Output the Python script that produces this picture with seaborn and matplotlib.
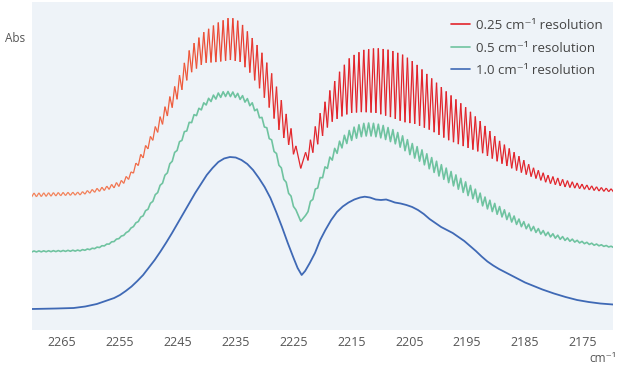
import numpy as np
import pandas as pd
import matplotlib
matplotlib.use("Agg")
import matplotlib.pyplot as plt
import seaborn as sns
from matplotlib.collections import LineCollection
from matplotlib.colors import LinearSegmentedColormap
from matplotlib.lines import Line2D

# x axis (cm-1, drawn high -> low)
ticks = [2265, 2255, 2245, 2235, 2225, 2215, 2205, 2195, 2185, 2175]
labels = ["0.25 cm\u207b\u00b9 resolution", "0.5 cm\u207b\u00b9 resolution", "1.0 cm\u207b\u00b9 resolution"]

# 1.0 cm-1 trace (Abs in arbitrary units)
blue_wn = [2270.2, 2266, 2263, 2261, 2259, 2257.5, 2256, 2255, 2254, 2253,
           2252, 2251, 2250, 2249, 2248, 2247, 2246, 2245, 2244, 2243,
           2242, 2241, 2240, 2239, 2238, 2237, 2236, 2235, 2234, 2233,
           2232, 2231, 2230, 2229, 2228, 2227, 2226, 2225, 2224.3, 2223.6,
           2223, 2222.2, 2221.3, 2220.4, 2219.5, 2218.5, 2217.5, 2216.5, 2215.5, 2214.5,
           2213.5, 2212.7, 2211.8, 2210.8, 2209.9, 2209, 2208.2, 2207.5, 2206.5, 2205.5,
           2204.5, 2203.5, 2202.5, 2201.5, 2200.5, 2199.5, 2198.5, 2197.5, 2196.5, 2195.5,
           2194.5, 2193.5, 2192.5, 2191.5, 2190.5, 2189.5, 2188, 2186.5, 2185, 2183.5,
           2182, 2180, 2178, 2176, 2174, 2172, 2169.8]
blue_abs = [0.21, 0.215, 0.22, 0.235, 0.26, 0.29, 0.32, 0.35, 0.39, 0.435,
            0.49, 0.55, 0.625, 0.70, 0.785, 0.875, 0.97, 1.07, 1.17, 1.27,
            1.37, 1.46, 1.55, 1.62, 1.68, 1.715, 1.73, 1.725, 1.70, 1.66,
            1.60, 1.52, 1.43, 1.32, 1.18, 1.03, 0.87, 0.72, 0.62, 0.55,
            0.59, 0.67, 0.77, 0.90, 1.00, 1.10, 1.18, 1.235, 1.275, 1.305,
            1.325, 1.333, 1.325, 1.305, 1.30, 1.305, 1.29, 1.275, 1.265, 1.25,
            1.23, 1.20, 1.16, 1.11, 1.07, 1.03, 1.00, 0.97, 0.93, 0.89,
            0.84, 0.79, 0.735, 0.685, 0.645, 0.61, 0.565, 0.52, 0.475, 0.44,
            0.405, 0.365, 0.33, 0.30, 0.28, 0.265, 0.255]

# 0.5 cm-1 trace: centre line ...
green_wn = [2270.2, 2265, 2262, 2260, 2258.5, 2257, 2256, 2255, 2254, 2253,
            2252, 2251, 2250, 2249, 2248, 2247, 2246, 2245, 2244, 2243,
            2242, 2241, 2240, 2239, 2238, 2237, 2236, 2235, 2234, 2233,
            2232, 2231, 2230, 2229, 2228, 2227, 2226, 2225, 2224.3, 2223.6,
            2223, 2222.2, 2221.3, 2220.4, 2219.5, 2218.5, 2217.5, 2216.5, 2215.5, 2214.5,
            2213.5, 2212.5, 2211.5, 2210.5, 2209.5, 2208.5, 2207.5, 2206, 2204.5, 2203,
            2201.5, 2200, 2198, 2196, 2194, 2192, 2190, 2188, 2186, 2184,
            2182, 2180, 2178, 2175.5, 2173, 2169.8]
green_mid = [0.785, 0.79, 0.795, 0.81, 0.83, 0.86, 0.89, 0.925, 0.965, 1.02,
             1.08, 1.15, 1.23, 1.33, 1.44, 1.56, 1.70, 1.83, 1.95, 2.06,
             2.15, 2.22, 2.28, 2.32, 2.345, 2.36, 2.36, 2.35, 2.325, 2.29,
             2.24, 2.16, 2.05, 1.91, 1.75, 1.58, 1.41, 1.25, 1.14, 1.08,
             1.12, 1.25, 1.38, 1.50, 1.61, 1.72, 1.81, 1.88, 1.935, 1.97,
             1.995, 2.005, 2.005, 1.995, 1.98, 1.955, 1.93, 1.87, 1.80, 1.745,
             1.675, 1.61, 1.53, 1.45, 1.37, 1.28, 1.21, 1.14, 1.075, 1.02,
             0.975, 0.94, 0.91, 0.88, 0.855, 0.83]
# ... and peak-to-peak size of its rotational ripple
ripple_wn = [2270.2, 2253.2, 2250.3, 2247.5, 2243.4, 2241.1, 2238.9, 2229.0, 2227.3, 2225.6,
             2224.5, 2223.6, 2222.8, 2222.1, 2220.4, 2218.7, 2217.5, 2214.6, 2212.9, 2199.7,
             2196.2, 2192.8, 2189.3, 2185.9, 2182.4, 2179.0, 2175.5, 2169.8]
ripple_pp = [0.01, 0.01, 0.02, 0.03, 0.04, 0.045, 0.05, 0.05, 0.045, 0.04,
             0.03, 0.01, 0.03, 0.04, 0.05, 0.07, 0.09, 0.12, 0.13, 0.13,
             0.125, 0.11, 0.09, 0.065, 0.045, 0.035, 0.02, 0.01]

# 0.25 cm-1 trace: tops and bottoms of the rotational lines
red_wn = [2270.2, 2261.8, 2257.2, 2254.9, 2253.2, 2251.0, 2249.7, 2247.5, 2245.1, 2242.8,
          2240.5, 2238.2, 2235.9, 2234.2, 2232.5, 2230.7, 2229.0, 2227.3, 2225.6, 2224.4,
          2223.6, 2222.8, 2222.1, 2220.4, 2218.7, 2216.9, 2215.2, 2213.0, 2210.7, 2208.3,
          2206.0, 2204.0, 2201.4, 2198.3, 2195.3, 2192.4, 2189.6, 2186.7, 2183.8, 2181.1,
          2178.1, 2175.2, 2172.4, 2169.8]
red_top = [1.37, 1.38, 1.44, 1.49, 1.57, 1.80, 1.94, 2.20, 2.49, 2.83,
           2.98, 3.07, 3.13, 3.08, 2.95, 2.80, 2.60, 2.33, 2.05, 1.80,
           1.65, 1.80, 1.90, 2.17, 2.40, 2.60, 2.73, 2.80, 2.82, 2.80,
           2.75, 2.67, 2.53, 2.37, 2.23, 2.07, 1.90, 1.77, 1.63, 1.55,
           1.50, 1.46, 1.43, 1.41]
red_bot = [1.33, 1.35, 1.40, 1.44, 1.52, 1.72, 1.86, 2.07, 2.31, 2.57,
           2.67, 2.68, 2.70, 2.68, 2.57, 2.40, 2.20, 1.97, 1.83, 1.68,
           1.60, 1.67, 1.73, 1.90, 2.07, 2.13, 2.17, 2.18, 2.17, 2.13,
           2.08, 2.06, 2.00, 1.90, 1.83, 1.77, 1.68, 1.60, 1.53, 1.47,
           1.43, 1.41, 1.39, 1.38]

# rotational structure of the band
band_origin = 2223.76
line_spacing = 0.838

red_col = "#e2242b"
green_col = "#6fc3a0"
blue_col = "#3f69b5"

# line positions (R branch above, P branch below the origin), with the gaps between them
k = np.arange(1, 70)
lines = np.sort(np.concatenate([band_origin + line_spacing * k, band_origin - line_spacing * k]))
lines = lines[(lines > 2168) & (lines < 2272)]
gaps = (lines[:-1] + lines[1:]) / 2
wn = np.empty(lines.size + gaps.size)
wn[0::2] = lines
wn[1::2] = gaps
is_line = np.zeros(wn.size, bool)
is_line[0::2] = True

# envelopes are stored high -> low, np.interp wants increasing x
def env(x, xs, ys):
    return np.interp(x, xs[::-1], ys[::-1])

red_y = np.where(is_line, env(wn, red_wn, red_top), env(wn, red_wn, red_bot))
g_mid = env(wn, green_wn, green_mid)
g_pp = env(wn, ripple_wn, ripple_pp)
green_y = np.where(is_line, g_mid + g_pp / 2, g_mid - g_pp / 2)

green_df = pd.DataFrame({"wn": wn, "abs": green_y})
blue_df = pd.DataFrame({"wn": blue_wn, "abs": blue_abs})

sns.set_theme(style="white")
plt.rcParams["font.family"] = ["Open Sans", "DejaVu Sans"]

fig = plt.figure(figsize=(6.2, 3.7), dpi=100)
ax = fig.add_axes([32 / 620, 40 / 370, 581 / 620, 328 / 370])
ax.set_facecolor("#eef3f8")

sns.lineplot(data=blue_df, x="wn", y="abs", color=blue_col, lw=1.3, estimator=None, ax=ax)
sns.lineplot(data=green_df, x="wn", y="abs", color=green_col, lw=1.2, estimator=None, ax=ax)

# red trace fades from orange on the left to red
pts = np.column_stack([wn, red_y]).reshape(-1, 1, 2)
segs = np.concatenate([pts[:-1], pts[1:]], axis=1)
cmap = LinearSegmentedColormap.from_list("o2r", ["#f3825a", "#ee5638", red_col])
t = np.clip((2262 - wn[:-1]) / (2262 - 2224), 0, 1)
lc = LineCollection(segs, colors=cmap(t), linewidths=0.9)
ax.add_collection(lc)

ax.set_xlim(2270.2, 2169.8)
ax.set_ylim(0, 3.28)
ax.set_xticks(ticks)
ax.set_yticks([])
ax.set_xlabel("")
ax.set_ylabel("")
ax.tick_params(axis="x", length=0, pad=4.5, labelsize=9, labelcolor="#555555")
for s in ax.spines.values():
    s.set_visible(False)

handles = [Line2D([], [], color=c, lw=1.2) for c in (red_col, green_col, blue_col)]
leg = ax.legend(handles, labels, loc="upper right", bbox_to_anchor=(0.983, 0.948),
                frameon=False, fontsize=9.5, handlelength=1.5, handletextpad=0.45,
                labelspacing=0.72, borderpad=0, borderaxespad=0)
for txt in leg.get_texts():
    txt.set_color("#444444")

fig.text(15 / 620, 1 - 39 / 370, "Abs", ha="center", va="center", fontsize=8.5, color="#555555")
fig.text(603 / 620, 1 - 358 / 370, "cm\u207b\u00b9", ha="center", va="center", fontsize=8.5, color="#555555")

fig.savefig("out.png", dpi=100)
